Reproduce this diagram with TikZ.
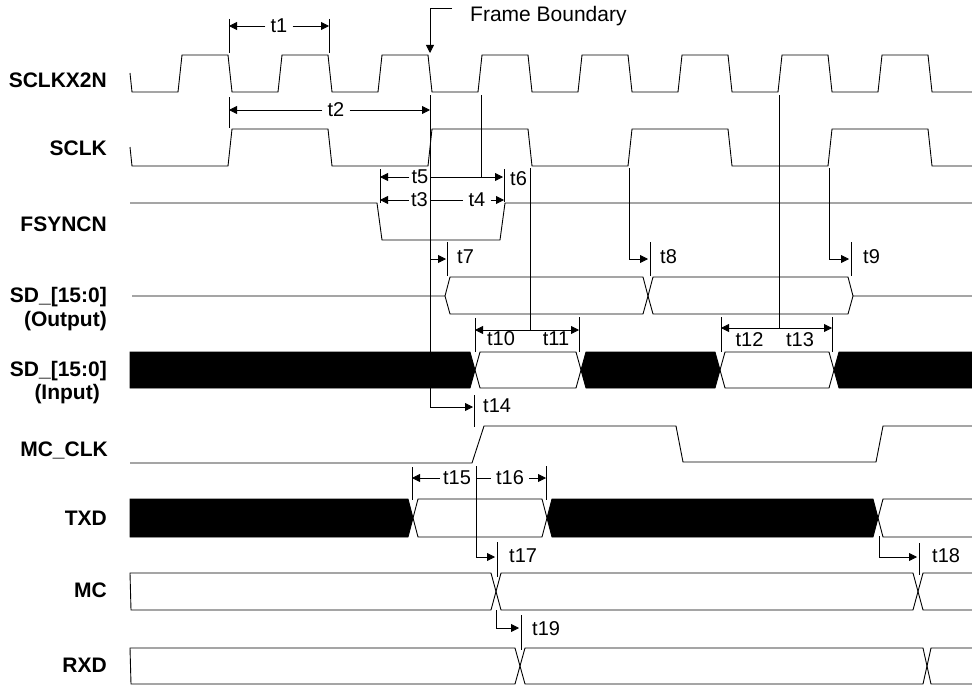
\documentclass[tikz,border=0pt]{standalone}
\usepackage{fontspec}
\setmainfont{Liberation Sans}
\usetikzlibrary{arrows.meta}

\begin{document}
\begin{tikzpicture}[x=1pt,y=-1pt,
   wave/.style={line width=0.9pt},
   dim/.style={line width=0.8pt},
   >={Triangle[length=8pt,width=8pt]},
   sname/.style={anchor=base east,inner sep=0pt,font=\fontsize{21}{24}\selectfont\bfseries},
   tlab/.style={inner sep=5pt,font=\fontsize{20}{24}\selectfont},
   tnote/.style={inner sep=0pt,font=\fontsize{20}{24}\selectfont}]

 \useasboundingbox (0,0) rectangle (972,685);

 %signal names
 \node[sname] (nsclkx2n) at (107,87.5) {SCLKX2N};
 \node[sname] (nsclk)    at (107,155)  {SCLK};
 \node[sname] (nfsyncn)  at (107,231.5){FSYNCN};
 \node[sname] (nsdo)     at (107,302)  {SD\_[15:0]};
 \node[sname] (nsdo2)    at (107,326)  {(Output)};
 \node[sname] (nsdi)     at (107,376)  {SD\_[15:0]};
 \node[sname] (nsdi2)    at (100,399)  {(Input)};
 \node[sname] (nmcclk)   at (108,456)  {MC\_CLK};
 \node[sname] (ntxd)     at (107,525)  {TXD};
 \node[sname] (nmc)      at (107,597)  {MC};
 \node[sname] (nrxd)     at (107,672)  {RXD};

 %clocks
 \draw[wave] (130,73) -- (132,92) -- (178,92) -- (182,55) -- (228,55) -- (232,92)
   -- (278,92) -- (282,55) -- (328,55) -- (332,92) -- (378,92) -- (382,55) -- (428,55)
   -- (432,92) -- (478,92) -- (482,55) -- (528,55) -- (532,92) -- (578,92) -- (582,55)
   -- (628,55) -- (632,92) -- (678,92) -- (682,55) -- (728,55) -- (732,92) -- (778,92)
   -- (782,55) -- (828,55) -- (832,92) -- (878,92) -- (882,55) -- (928,55) -- (932,92)
   -- (972,92);
 \draw[wave] (130,147) -- (132,166) -- (228,166) -- (232,129) -- (328,129) -- (332,166)
   -- (428,166) -- (432,129) -- (528,129) -- (532,166) -- (628,166) -- (632,129)
   -- (728,129) -- (732,166) -- (828,166) -- (832,129) -- (928,129) -- (932,166)
   -- (972,166);
 \draw[wave] (130,203) -- (377,203) -- (382,240) -- (500,240) -- (505,203) -- (972,203);

 %SD output
 \draw[wave] (132,296) -- (445,296) -- (450,277) -- (643,277) -- (648,296) -- (653,277)
   -- (848,277) -- (853,296) -- (972,296);
 \draw[wave] (445,296) -- (450,314) -- (643,314) -- (648,296) -- (653,314) -- (848,314)
   -- (853,296);

 %SD input
 \filldraw[wave] (130,352) -- (470,352) -- (475,370) -- (470,388) -- (130,388) -- cycle;
 \draw[wave] (475,370) -- (480,352) -- (576,352) -- (581,370) -- (576,388) -- (480,388) -- cycle;
 \filldraw[wave] (581,370) -- (586,352) -- (715,352) -- (720,370) -- (715,388) -- (586,388) -- cycle;
 \draw[wave] (720,370) -- (725,352) -- (829,352) -- (834,370) -- (829,388) -- (725,388) -- cycle;
 \filldraw[wave] (834,370) -- (839,352) -- (972,352) -- (972,388) -- (839,388) -- cycle;

 %MC_CLK
 \draw[wave] (130,463) -- (472,463) -- (484,426) -- (676,426) -- (683,462) -- (876,462)
   -- (883,426) -- (972,426);

 %TXD
 \filldraw[wave] (130,499) -- (408,499) -- (413,518) -- (408,537) -- (130,537) -- cycle;
 \draw[wave] (413,518) -- (418,499) -- (542,499) -- (547,518) -- (542,537) -- (418,537) -- cycle;
 \filldraw[wave] (547,518) -- (552,499) -- (873,499) -- (878,518) -- (873,537) -- (552,537) -- cycle;
 \draw[wave] (972,499) -- (883,499) -- (878,518) -- (883,537) -- (972,537);

 %MC
 \draw[wave] (130,573) -- (491,573) -- (496,591.5) -- (491,610) -- (131,610) -- cycle;
 \draw[wave] (496,591.5) -- (501,573) -- (913,573) -- (918,591.5) -- (913,610) -- (501,610) -- cycle;
 \draw[wave] (972,573) -- (923,573) -- (918,591.5) -- (923,610) -- (972,610);

 %RXD
 \draw[wave] (130,648) -- (515,648) -- (520,666) -- (515,684) -- (131,684) -- cycle;
 \draw[wave] (520,666) -- (525,648) -- (923,648) -- (927,666) -- (923,684) -- (525,684) -- cycle;
 \draw[wave] (972,648) -- (931,648) -- (927,666) -- (931,684) -- (972,684);

 %frame boundary
 \node[tnote, anchor=base west, font=\fontsize{21}{24}\selectfont] (fbtext) at (470,22) {Frame Boundary};
 \coordinate (fbtip) at (430,53);
 \draw[dim,->] ([xshift=-18pt,yshift=-2pt]fbtext.north west) -| (fbtip);

 %extension lines
 \draw[dim] (229,19) -- (229,53)  (329,19) -- (329,53)  (229,97) -- (229,128)
   (380,169) -- (380,203)  (504,169) -- (504,202)
   (447,242) -- (447,276)  (650,242) -- (650,276)  (851,242) -- (851,276)
   (475,318) -- (475,352)  (579,317) -- (579,352)  (721,317) -- (721,352)  (832,317) -- (832,352)
   (474,395) -- (474,427)  (412,467) -- (412,500)  (546,466) -- (546,500)
   (497,542) -- (497,577)  (919,543) -- (919,575)  (521,615) -- (521,650);

 %reference lines
 \draw[dim] (481,95) -- (481,177)  (530,168) -- (530,330)  (779,95) -- (779,328);

 %arrow ends
 \coordinate (t1l) at (229,26);  \coordinate (t1r) at (329,26);
 \coordinate (t2l) at (229,110); \coordinate (t2r) at (430,110);
 \coordinate (t5l) at (380,177); \coordinate (t3l) at (380,200);
 \coordinate (t4s) at (431,200); \coordinate (t4r) at (504,200);
 \coordinate (t6s) at (430,177); \coordinate (t6r) at (503,177);
 \coordinate (t7r) at (446,259); \coordinate (t8r) at (648,259); \coordinate (t9r) at (849,259);
 \coordinate (t14r) at (473,407);
 \coordinate (t15l) at (412,478); \coordinate (t16s) at (477,478); \coordinate (t16r) at (546,478);
 \coordinate (t17r) at (495,557); \coordinate (t18r) at (917,557); \coordinate (t19r) at (519,628);

 %labels inline
 \node[tlab] (t1) at (279,26) {t1};
 \node[tlab] (t2) at (336,110) {t2};
 \node[tlab, inner sep=2pt] (t5) at (420,177) {t5};
 \node[tlab, inner sep=2pt] (t3) at (419.5,200) {t3};
 \node[tlab] (t4) at (477,200) {t4};
 \node[tlab, inner sep=3pt] (t15) at (457,478) {t15};
 \node[tlab] (t16) at (510,478) {t16};

 \draw[dim,->] (t1) -- (t1l);
 \draw[dim,->] (t1) -- (t1r);
 \draw[dim,->] (t2) -- (t2l);
 \draw[dim,->] (t2) -- (t2r);
 \draw[dim,->] (t5) -- (t5l);
 \draw[dim,->] (t3) -- (t3l);
 \draw[dim] (t4s) -- (t4);
 \draw[dim,->] (t4) -- (t4r);
 \draw[dim,->] (t15) -- (t15l);
 \draw[dim] (t16s) -- (t16);
 \draw[dim,->] (t16) -- (t16r);

 %labels beside
 \node[tnote, anchor=base west] (t6)  at (510,185) {t6};
 \node[tnote, anchor=base west] (t7)  at (457,263) {t7};
 \node[tnote, anchor=base west] (t8)  at (660,263) {t8};
 \node[tnote, anchor=base west] (t9)  at (863,263) {t9};
 \node[tnote, anchor=base west] (t14) at (483,412) {t14};
 \node[tnote, anchor=base west] (t17) at (509,562) {t17};
 \node[tnote, anchor=base west] (t18) at (932,562) {t18};
 \node[tnote, anchor=base west] (t19) at (532,635) {t19};
 %labels below
 \node[tnote, anchor=base] (t10) at (501,345) {t10};
 \node[tnote, anchor=base] (t11) at (556,345) {t11};
 \node[tnote, anchor=base] (t12) at (749.5,346) {t12};
 \node[tnote, anchor=base] (t13) at (800,346) {t13};

 \draw[dim,->] (430,95) -- (430,407) -- (t14r);
 \draw[dim,->] (t6s) -- (t6r);
 \draw[dim,->] (430,259) -- (t7r);
 \draw[dim,->] (629,168) -- (629,259) -- (t8r);
 \draw[dim,->] (829,168) -- (829,259) -- (t9r);
 \draw[dim,<->] (475,330) -- (579,330);
 \draw[dim,<->] (721,328) -- (832,328);
 \draw[dim,->] (476,466) -- (476,557) -- (t17r);
 \draw[dim,->] (879,536) -- (879,557) -- (t18r);
 \draw[dim,->] (496,610) -- (496,628) -- (t19r);

\end{tikzpicture}
\end{document}
